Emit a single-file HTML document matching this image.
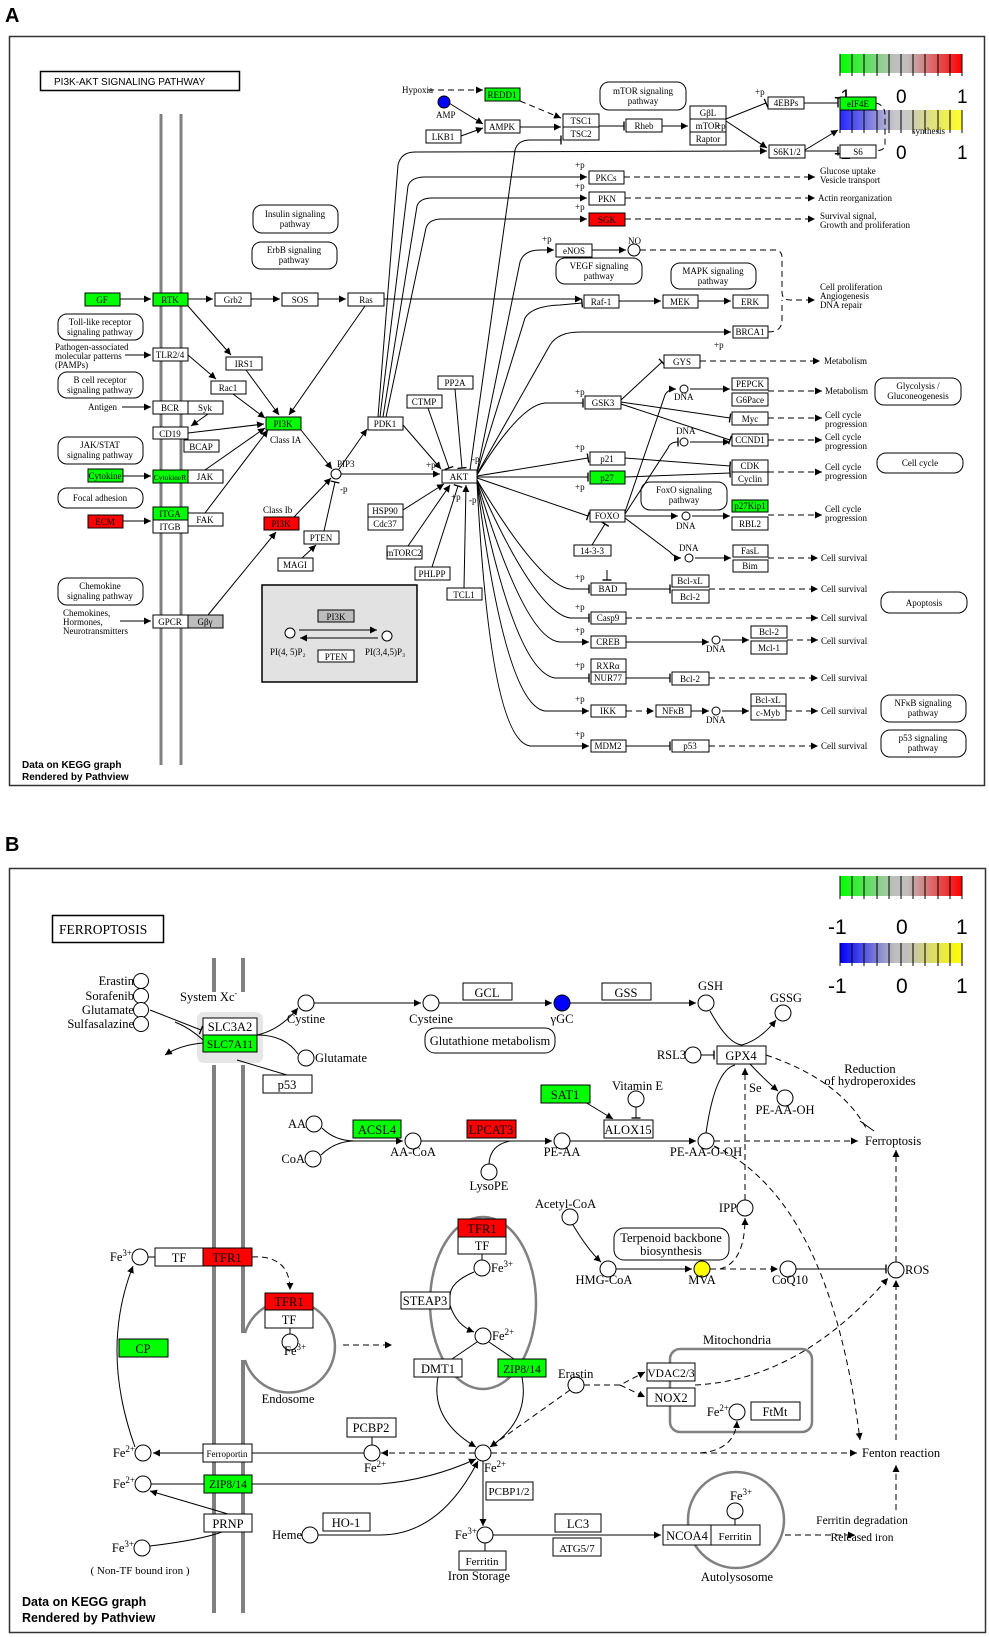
<!DOCTYPE html>
<html><head><meta charset="utf-8"><style>
html,body{margin:0;padding:0;background:#fff}
svg{display:block}
.a text{font-family:"Liberation Serif",serif;font-size:9px;fill:#000}
.b text{font-family:"Liberation Serif",serif;font-size:12.5px;fill:#000}
.n{fill:#fff;stroke:#000;stroke-width:1}
.g{fill:#00ff00;stroke:#000;stroke-width:1}
.r{fill:#ff0000;stroke:#000;stroke-width:1}
.gr{fill:#bdbdbd;stroke:#000;stroke-width:1}
.rr{fill:#fff;stroke:#000;stroke-width:1}
.l{fill:none;stroke:#000;stroke-width:1}
.d{fill:none;stroke:#000;stroke-width:1;stroke-dasharray:6,4}
</style></head><body>
<svg width="989" height="1637" viewBox="0 0 989 1637" xmlns="http://www.w3.org/2000/svg">
<defs>
<marker id="ar" viewBox="0 0 10 10" refX="10" refY="5" markerWidth="7" markerHeight="7" orient="auto"><path d="M0,0L10,5L0,10z" fill="#000"/></marker>
<marker id="br" viewBox="0 0 4 10" refX="2" refY="5" markerWidth="4" markerHeight="9" orient="auto"><path d="M2,0L2,10" stroke="#000" stroke-width="1.5"/></marker>
<linearGradient id="lg1" x1="0" x2="1"><stop offset="0" stop-color="#00ff00"/><stop offset="0.45" stop-color="#bebebe"/><stop offset="0.55" stop-color="#bebebe"/><stop offset="1" stop-color="#ff0000"/></linearGradient>
<linearGradient id="lg2" x1="0" x2="1"><stop offset="0" stop-color="#0000ff"/><stop offset="0.45" stop-color="#bebebe"/><stop offset="0.55" stop-color="#bebebe"/><stop offset="1" stop-color="#ffff00"/></linearGradient>
</defs>

<text x="5" y="22" style="font-family:'Liberation Sans',sans-serif;font-weight:bold;font-size:20px">A</text>
<text x="5" y="851" style="font-family:'Liberation Sans',sans-serif;font-weight:bold;font-size:20px">B</text>

<!-- ================= PANEL A ================= -->
<g class="a">
<rect x="9.5" y="36.5" width="975" height="749" fill="none" stroke="#333" stroke-width="1.5"/>
<rect x="40.5" y="71.5" width="199" height="19" fill="#fff" stroke="#000" stroke-width="1.5"/>
<text x="54" y="85" style="font-family:'Liberation Sans',sans-serif;font-size:10px">PI3K-AKT  SIGNALING  PATHWAY</text>
<line x1="161" y1="114" x2="161" y2="765" stroke="#808080" stroke-width="3"/>
<line x1="181" y1="114" x2="181" y2="765" stroke="#808080" stroke-width="3"/>

<!-- legend -->
<rect x="840" y="54" width="122" height="19" fill="url(#lg1)"/>
<g stroke="#000" stroke-width="1"><path d="M840,54v22M852,54v22M864,54v22M877,54v22M889,54v22M901,54v22M913,54v22M925,54v22M938,54v22M950,54v22M962,54v22"/></g>
<rect x="840" y="110" width="122" height="20" fill="url(#lg2)" opacity="0.85"/>
<g stroke="#000" stroke-width="1"><path d="M840,110v23M852,110v23M864,110v23M877,110v23M889,110v23M901,110v23M913,110v23M925,110v23M938,110v23M950,110v23M962,110v23"/></g>
<g style="font-family:'Liberation Sans',sans-serif;font-size:19px">
<text x="834" y="103" style="font-family:'Liberation Sans',sans-serif;font-size:19px">-1</text><text x="896" y="103" style="font-family:'Liberation Sans',sans-serif;font-size:19px">0</text><text x="957" y="103" style="font-family:'Liberation Sans',sans-serif;font-size:19px">1</text>
<text x="834" y="159" style="font-family:'Liberation Sans',sans-serif;font-size:19px">-1</text><text x="896" y="159" style="font-family:'Liberation Sans',sans-serif;font-size:19px">0</text><text x="957" y="159" style="font-family:'Liberation Sans',sans-serif;font-size:19px">1</text>
</g>
<text x="912" y="134">synthesis</text>

<!-- rounded pathway nodes -->
<g class="rr">
<rect x="253" y="205" width="85" height="28" rx="9"/><rect x="252" y="242" width="85" height="27" rx="9"/>
<rect x="58" y="314" width="85" height="26" rx="9"/><rect x="58" y="372" width="85" height="26" rx="9"/>
<rect x="58" y="437" width="85" height="27" rx="9"/><rect x="58" y="488" width="85" height="20" rx="9"/>
<rect x="58" y="578" width="85" height="27" rx="9"/><rect x="600" y="82" width="86" height="28" rx="9"/>
<rect x="556" y="258" width="86" height="26" rx="9"/><rect x="671" y="263" width="85" height="26" rx="9"/>
<rect x="875" y="378" width="86" height="27" rx="9"/><rect x="877" y="453" width="86" height="20" rx="9"/>
<rect x="641" y="482" width="86" height="28" rx="9"/><rect x="881" y="592" width="86" height="21" rx="9"/>
<rect x="881" y="695" width="85" height="27" rx="9"/><rect x="881" y="730" width="85" height="27" rx="9"/>
</g>
<g text-anchor="middle">
<text x="295" y="217">Insulin signaling</text><text x="295" y="227">pathway</text>
<text x="294" y="253">ErbB signaling</text><text x="294" y="263">pathway</text>
<text x="100" y="325">Toll-like receptor</text><text x="100" y="335">signaling pathway</text>
<text x="100" y="383">B cell receptor</text><text x="100" y="393">signaling pathway</text>
<text x="100" y="448">JAK/STAT</text><text x="100" y="458">signaling pathway</text>
<text x="100" y="501">Focal adhesion</text>
<text x="100" y="589">Chemokine</text><text x="100" y="599">signaling pathway</text>
<text x="643" y="94">mTOR signaling</text><text x="643" y="104">pathway</text>
<text x="599" y="269">VEGF signaling</text><text x="599" y="279">pathway</text>
<text x="713" y="274">MAPK signaling</text><text x="713" y="284">pathway</text>
<text x="918" y="389">Glycolysis /</text><text x="918" y="399">Gluconeogenesis</text>
<text x="920" y="466">Cell cycle</text>
<text x="684" y="493">FoxO signaling</text><text x="684" y="503">pathway</text>
<text x="924" y="606">Apoptosis</text>
<text x="923" y="706">NFκB signaling</text><text x="923" y="716">pathway</text>
<text x="923" y="741">p53 signaling</text><text x="923" y="751">pathway</text>
</g>

<!-- gray box -->
<rect x="262" y="585" width="155" height="97" fill="#e2e2e2" stroke="#000" stroke-width="1.5"/>
<circle cx="290" cy="633" r="5" class="n"/><circle cx="387" cy="636" r="5" class="n"/>
<path d="M299,630L377,630" class="l" marker-end="url(#ar)"/><path d="M378,638L300,638" class="l" marker-end="url(#ar)"/>
<text x="270" y="655">PI(4, 5)P₂</text><text x="365" y="655">PI(3,4,5)P₃</text>

<!-- edges A -->
<g class="l">
<path d="M120,299H151" marker-end="url(#ar)"/><path d="M188,299H213" marker-end="url(#ar)"/><path d="M251,299H280" marker-end="url(#ar)"/><path d="M318,299H346" marker-end="url(#ar)"/>
<path d="M384,299H582" marker-end="url(#ar)"/>
<path d="M188,306L231,355" marker-end="url(#ar)"/><path d="M246,370L279,415" marker-end="url(#ar)"/><path d="M365,306L289,415" marker-end="url(#ar)"/>
<path d="M188,355L216,379" marker-end="url(#ar)"/><path d="M233,394L265,418" marker-end="url(#ar)"/>
<path d="M188,433L264,424" marker-end="url(#ar)"/><path d="M208,414L191,426" marker-end="url(#ar)"/>
<path d="M205,470L265,428" marker-end="url(#ar)"/><path d="M205,513L268,430" marker-end="url(#ar)"/>
<path d="M208,615L276,532" marker-end="url(#ar)"/>
<path d="M125,355H151" marker-end="url(#ar)"/><path d="M122,407H151" marker-end="url(#ar)"/><path d="M123,476H151" marker-end="url(#ar)"/><path d="M123,521H151" marker-end="url(#ar)"/><path d="M120,621H151" marker-end="url(#ar)"/>
<path d="M301,430L332,469" marker-end="url(#ar)"/><path d="M294,517L331,478" marker-end="url(#ar)"/>
<path d="M324,531L335,482" marker-end="url(#br)"/><path d="M302,558L316,545" marker-end="url(#ar)"/>
<path d="M339,469L367,429" marker-end="url(#ar)"/><path d="M341,474H440" marker-end="url(#ar)"/>
<path d="M403,425L441,469" marker-end="url(#ar)"/><path d="M428,408L449,468" marker-end="url(#br)"/><path d="M455,389L462,468" marker-end="url(#br)"/>
<path d="M403,510L444,484" marker-end="url(#ar)"/><path d="M408,546L450,485" marker-end="url(#ar)"/><path d="M432,567L458,486" marker-end="url(#br)"/><path d="M464,588L466,485" marker-end="url(#ar)"/>
<path d="M378,417L398,165Q401,152 415,152L767,151" marker-end="url(#ar)"/>
<path d="M380,417L408,186Q411,177 425,177L587,177" marker-end="url(#ar)"/>
<path d="M383,417L417,206Q420,198 432,198L587,198" marker-end="url(#ar)"/>
<path d="M386,417L426,228Q429,219 442,219L587,219" marker-end="url(#ar)"/>
<path d="M470,470L515,150Q518,140 530,140L561,140" marker-end="url(#br)"/>
<path d="M477,472L520,262Q524,250 540,250L554,250" marker-end="url(#ar)"/>
<path d="M477,473L525,318Q532,306 560,305L582,303" marker-end="url(#br)"/>
<path d="M477,474L550,345Q558,332 580,332L731,332" marker-end="url(#ar)"/>
<path d="M477,475Q520,405 545,403L583,403" marker-end="url(#br)"/>
<path d="M477,476L588,458" marker-end="url(#br)"/><path d="M477,477L588,477" marker-end="url(#br)"/><path d="M477,478L588,516" marker-end="url(#br)"/>
<path d="M477,480Q540,585 570,589L589,589" marker-end="url(#br)"/>
<path d="M477,480Q535,612 570,618L589,618" marker-end="url(#br)"/>
<path d="M477,481Q525,640 560,642L589,642" marker-end="url(#ar)"/>
<path d="M477,481Q515,672 555,678L589,678" marker-end="url(#br)"/>
<path d="M477,482Q505,705 545,711L589,711" marker-end="url(#ar)"/>
<path d="M477,482Q490,740 530,746L589,746" marker-end="url(#ar)"/>
<path d="M444,100L483,124" marker-end="url(#ar)"/><path d="M461,136L483,128" marker-end="url(#ar)"/>
<path d="M520,127H561" marker-end="url(#ar)"/><path d="M599,126H624" marker-end="url(#br)"/><path d="M662,126H688" marker-end="url(#ar)"/>
<path d="M726,119L766,103" marker-end="url(#br)"/><path d="M726,121L767,148" marker-end="url(#ar)"/>
<path d="M804,103H838" marker-end="url(#br)"/><path d="M805,150L838,130" marker-end="url(#ar)"/><path d="M805,151H838" marker-end="url(#br)"/>
<path d="M592,250H626" marker-end="url(#ar)"/><path d="M619,301H661" marker-end="url(#ar)"/><path d="M698,301H731" marker-end="url(#ar)"/>
<path d="M621,400L662,362" marker-end="url(#br)"/><path d="M621,402L730,418" marker-end="url(#br)"/><path d="M621,404L730,440" marker-end="url(#br)"/>
<path d="M625,458L730,466" marker-end="url(#br)"/><path d="M625,477L730,473" marker-end="url(#br)"/>
<path d="M625,512L665,395Q668,389 676,389" marker-end="url(#ar)"/><path d="M690,389H730" marker-end="url(#ar)"/>
<path d="M625,514L668,448Q670,442 678,442" marker-end="url(#br)"/><path d="M690,442H730" marker-end="url(#ar)"/>
<path d="M625,516H678" marker-end="url(#ar)"/><path d="M692,516H730" marker-end="url(#ar)"/>
<path d="M625,518L670,552Q675,558 681,558" marker-end="url(#ar)"/><path d="M695,558H731" marker-end="url(#ar)"/>
<path d="M592,545L605,524" marker-end="url(#br)"/><path d="M607,570V580" marker-end="url(#br)"/>
<path d="M626,589H670" marker-end="url(#br)"/><path d="M626,642H709" marker-end="url(#ar)"/><path d="M722,640H749" marker-end="url(#ar)"/>
<path d="M626,678H670" marker-end="url(#br)"/><path d="M691,711H709" marker-end="url(#ar)"/><path d="M722,711H749" marker-end="url(#ar)"/><path d="M626,746H670" marker-end="url(#br)"/>
</g>
<g class="d">
<path d="M428,90H483" marker-end="url(#ar)"/><path d="M520,101L561,118" marker-end="url(#ar)"/>
<path d="M624,177H815" marker-end="url(#ar)"/><path d="M625,198H815" marker-end="url(#ar)"/><path d="M625,219H815" marker-end="url(#ar)"/>
<path d="M640,250H775Q782,250 782,258V292Q782,300 790,300H815" marker-end="url(#ar)"/>
<path d="M768,332Q782,332 782,320V300"/><path d="M876,103Q885,105 885,115V145Q885,150 876,151"/>
<path d="M700,361H820" marker-end="url(#ar)"/><path d="M768,391H822" marker-end="url(#ar)"/><path d="M768,418H822" marker-end="url(#ar)"/><path d="M768,440H822" marker-end="url(#ar)"/>
<path d="M768,472H822" marker-end="url(#ar)"/><path d="M768,515H822" marker-end="url(#ar)"/><path d="M768,558H818" marker-end="url(#ar)"/>
<path d="M709,589H818" marker-end="url(#ar)"/><path d="M626,618H818" marker-end="url(#ar)"/><path d="M787,640H818" marker-end="url(#ar)"/>
<path d="M709,678H818" marker-end="url(#ar)"/><path d="M626,711H654" marker-end="url(#ar)"/><path d="M786,711H818" marker-end="url(#ar)"/><path d="M709,746H818" marker-end="url(#ar)"/>
</g>
<circle cx="444" cy="102" r="6" fill="#0000ff" stroke="#000"/>
<circle cx="634" cy="250" r="6" class="n"/><circle cx="336" cy="474" r="5" class="n"/>
<circle cx="684" cy="389" r="4" class="n"/><circle cx="684" cy="442" r="4" class="n"/><circle cx="686" cy="516" r="4" class="n"/><circle cx="689" cy="558" r="4" class="n"/><circle cx="716" cy="640" r="4" class="n"/><circle cx="716" cy="711" r="4" class="n"/>

<!-- boxes A -->
<g>
<rect class="g" x="85" y="293" width="35" height="13"/><rect class="g" x="153" y="293" width="35" height="13"/>
<rect class="n" x="215" y="293" width="36" height="13"/><rect class="n" x="282" y="293" width="36" height="13"/><rect class="n" x="348" y="293" width="36" height="13"/>
<rect class="n" x="153" y="348" width="35" height="13"/><rect class="n" x="226" y="357" width="36" height="13"/><rect class="n" x="211" y="381" width="35" height="13"/>
<rect class="n" x="153" y="401" width="35" height="13"/><rect class="n" x="188" y="401" width="35" height="13"/><rect class="n" x="153" y="427" width="35" height="12"/><rect class="n" x="184" y="440" width="35" height="12"/>
<rect class="g" x="266" y="417" width="35" height="13"/><rect class="g" x="88" y="469" width="35" height="13"/><rect class="g" x="153" y="470" width="35" height="13"/><rect class="n" x="188" y="470" width="35" height="13"/>
<rect class="r" x="88" y="515" width="35" height="13"/><rect class="g" x="153" y="507" width="35" height="13"/><rect class="n" x="153" y="520" width="35" height="13"/><rect class="n" x="188" y="513" width="35" height="13"/>
<rect class="r" x="264" y="517" width="35" height="13"/><rect class="n" x="304" y="531" width="35" height="13"/><rect class="n" x="278" y="558" width="35" height="13"/>
<rect class="n" x="153" y="615" width="35" height="13"/><rect class="gr" x="188" y="615" width="35" height="13"/>
<rect class="n" x="368" y="417" width="35" height="13"/><rect class="n" x="407" y="395" width="35" height="13"/><rect class="n" x="438" y="376" width="35" height="13"/><rect class="n" x="442" y="470" width="35" height="13"/>
<rect class="n" x="368" y="504" width="35" height="13"/><rect class="n" x="368" y="517" width="35" height="13"/><rect class="n" x="387" y="546" width="35" height="13"/><rect class="n" x="415" y="567" width="35" height="13"/><rect class="n" x="447" y="588" width="35" height="12"/>
<rect class="gr" x="318" y="610" width="36" height="12"/><rect class="n" x="318" y="650" width="36" height="12"/>
<rect class="g" x="485" y="88" width="35" height="13"/><rect class="n" x="485" y="120" width="35" height="13"/><rect class="n" x="426" y="130" width="35" height="13"/>
<rect class="n" x="563" y="114" width="36" height="13"/><rect class="n" x="563" y="127" width="36" height="13"/><rect class="n" x="626" y="119" width="36" height="13"/>
<rect class="n" x="690" y="106" width="36" height="13"/><rect class="n" x="690" y="119" width="36" height="13"/><rect class="n" x="690" y="132" width="36" height="13"/>
<rect class="n" x="768" y="97" width="36" height="12"/><rect class="g" x="840" y="97" width="36" height="13"/><rect class="n" x="769" y="145" width="36" height="13"/><rect class="n" x="840" y="145" width="36" height="13"/>
<rect class="n" x="589" y="171" width="35" height="13"/><rect class="n" x="589" y="192" width="36" height="13"/><rect class="r" x="589" y="213" width="36" height="13"/><rect class="n" x="556" y="244" width="36" height="13"/>
<rect class="n" x="584" y="295" width="35" height="13"/><rect class="n" x="663" y="295" width="35" height="13"/><rect class="n" x="733" y="295" width="35" height="13"/><rect class="n" x="733" y="326" width="35" height="12"/>
<rect class="n" x="664" y="355" width="36" height="13"/><rect class="n" x="732" y="378" width="36" height="12"/><rect class="n" x="732" y="393" width="36" height="13"/><rect class="n" x="585" y="396" width="36" height="13"/>
<rect class="n" x="732" y="412" width="36" height="13"/><rect class="n" x="732" y="434" width="36" height="12"/><rect class="n" x="590" y="452" width="35" height="13"/><rect class="g" x="590" y="471" width="35" height="13"/>
<rect class="n" x="732" y="460" width="36" height="12"/><rect class="n" x="732" y="472" width="36" height="13"/><rect class="n" x="590" y="510" width="35" height="12"/>
<rect class="g" x="732" y="500" width="36" height="12"/><rect class="n" x="732" y="517" width="36" height="13"/><rect class="n" x="574" y="545" width="37" height="11"/>
<rect class="n" x="733" y="545" width="35" height="12"/><rect class="n" x="733" y="560" width="35" height="12"/><rect class="n" x="591" y="583" width="35" height="12"/>
<rect class="n" x="672" y="575" width="37" height="12"/><rect class="n" x="672" y="590" width="37" height="13"/><rect class="n" x="591" y="612" width="35" height="12"/><rect class="n" x="591" y="636" width="35" height="12"/>
<rect class="n" x="751" y="626" width="36" height="12"/><rect class="n" x="751" y="641" width="36" height="13"/><rect class="n" x="591" y="659" width="35" height="13"/><rect class="n" x="591" y="672" width="35" height="12"/>
<rect class="n" x="672" y="672" width="37" height="13"/><rect class="n" x="591" y="705" width="35" height="12"/><rect class="n" x="656" y="705" width="35" height="12"/>
<rect class="n" x="751" y="694" width="35" height="12"/><rect class="n" x="751" y="706" width="35" height="14"/><rect class="n" x="591" y="740" width="35" height="12"/><rect class="n" x="672" y="740" width="37" height="12"/>
</g>
<g text-anchor="middle">
<text x="102" y="303">GF</text><text x="170" y="303">RTK</text><text x="233" y="303">Grb2</text><text x="300" y="303">SOS</text><text x="366" y="303">Ras</text>
<text x="170" y="358">TLR2/4</text><text x="244" y="367">IRS1</text><text x="228" y="391">Rac1</text><text x="170" y="411">BCR</text><text x="205" y="411">Syk</text><text x="170" y="437">CD19</text><text x="201" y="450">BCAP</text>
<text x="283" y="427">PI3K</text><text x="105" y="479">Cytokine</text><text x="170" y="480" style="font-size:7.5px">CytokineR</text><text x="205" y="480">JAK</text>
<text x="105" y="525">ECM</text><text x="170" y="517">ITGA</text><text x="170" y="530">ITGB</text><text x="205" y="523">FAK</text>
<text x="281" y="527">PI3K</text><text x="321" y="541">PTEN</text><text x="295" y="568">MAGI</text><text x="170" y="625">GPCR</text><text x="205" y="625">Gβγ</text>
<text x="385" y="427">PDK1</text><text x="424" y="405">CTMP</text><text x="455" y="386">PP2A</text><text x="459" y="480">AKT</text>
<text x="385" y="514">HSP90</text><text x="385" y="527">Cdc37</text><text x="404" y="556">mTORC2</text><text x="432" y="577">PHLPP</text><text x="464" y="598">TCL1</text>
<text x="336" y="620">PI3K</text><text x="336" y="660">PTEN</text>
<text x="502" y="98">REDD1</text><text x="502" y="130">AMPK</text><text x="443" y="140">LKB1</text>
<text x="581" y="124">TSC1</text><text x="581" y="137">TSC2</text><text x="644" y="129">Rheb</text>
<text x="708" y="116">GβL</text><text x="708" y="129">mTOR</text><text x="708" y="142">Raptor</text>
<text x="786" y="106">4EBPs</text><text x="858" y="107">eIF4E</text><text x="787" y="155">S6K1/2</text><text x="858" y="155">S6</text>
<text x="606" y="181">PKCs</text><text x="607" y="202">PKN</text><text x="607" y="223">SGK</text><text x="574" y="254">eNOS</text>
<text x="601" y="305">Raf-1</text><text x="680" y="305">MEK</text><text x="750" y="305">ERK</text><text x="750" y="335">BRCA1</text>
<text x="682" y="365">GYS</text><text x="750" y="387">PEPCK</text><text x="750" y="403">G6Pace</text><text x="603" y="406">GSK3</text>
<text x="750" y="422">Myc</text><text x="750" y="443">CCND1</text><text x="607" y="462">p21</text><text x="607" y="481">p27</text>
<text x="750" y="469">CDK</text><text x="750" y="482">Cyclin</text><text x="607" y="519">FOXO</text><text x="750" y="509">p27Kip1</text><text x="750" y="527">RBL2</text>
<text x="592" y="554">14-3-3</text><text x="750" y="554">FasL</text><text x="750" y="569">Bim</text><text x="608" y="592">BAD</text>
<text x="690" y="584">Bcl-xL</text><text x="690" y="600">Bcl-2</text><text x="608" y="621">Casp9</text><text x="608" y="645">CREB</text>
<text x="769" y="635">Bcl-2</text><text x="769" y="651">Mcl-1</text><text x="608" y="669">RXRα</text><text x="608" y="681">NUR77</text>
<text x="690" y="682">Bcl-2</text><text x="608" y="714">IKK</text><text x="673" y="714">NFκB</text><text x="768" y="703">Bcl-xL</text><text x="768" y="716">c-Myb</text>
<text x="608" y="749">MDM2</text><text x="690" y="749">p53</text>
</g>
<g>
<text x="402" y="93">Hypoxia</text><text x="436" y="118">AMP</text><text x="628" y="244">NO</text>
<text x="55" y="350">Pathogen-associated</text><text x="55" y="359">molecular patterns</text><text x="55" y="368">(PAMPs)</text>
<text x="88" y="410">Antigen</text><text x="270" y="443">Class IA</text><text x="263" y="513">Class Ib</text><text x="337" y="467">PIP3</text>
<text x="63" y="616">Chemokines,</text><text x="63" y="625">Hormones,</text><text x="63" y="634">Neurotransmitters</text>
<text x="820" y="174">Glucose uptake</text><text x="820" y="183">Vesicle transport</text><text x="818" y="201">Actin reorganization</text>
<text x="820" y="219">Survival signal,</text><text x="820" y="228">Growth and proliferation</text>
<text x="820" y="290">Cell proliferation</text><text x="820" y="299">Angiogenesis</text><text x="820" y="308">DNA repair</text>
<text x="824" y="364">Metabolism</text><text x="825" y="394">Metabolism</text>
<text x="825" y="418">Cell cycle</text><text x="825" y="427">progression</text><text x="825" y="440">Cell cycle</text><text x="825" y="449">progression</text>
<text x="825" y="470">Cell cycle</text><text x="825" y="479">progression</text><text x="825" y="512">Cell cycle</text><text x="825" y="521">progression</text>
<text x="821" y="561">Cell survival</text><text x="821" y="592">Cell survival</text><text x="821" y="621">Cell survival</text><text x="821" y="644">Cell survival</text>
<text x="821" y="681">Cell survival</text><text x="821" y="714">Cell survival</text><text x="821" y="749">Cell survival</text>
<text x="674" y="400">DNA</text><text x="676" y="434">DNA</text><text x="676" y="529">DNA</text><text x="679" y="551">DNA</text><text x="706" y="652">DNA</text><text x="706" y="723">DNA</text>
<text x="575" y="168">+p</text><text x="575" y="189">+p</text><text x="575" y="210">+p</text><text x="542" y="242">+p</text><text x="716" y="129">+p</text><text x="755" y="95">+p</text>
<text x="575" y="395">+p</text><text x="575" y="450">+p</text><text x="575" y="490">+p</text><text x="575" y="580">+p</text><text x="575" y="610">+p</text><text x="575" y="633">+p</text><text x="575" y="668">+p</text><text x="575" y="702">+p</text><text x="575" y="737">+p</text>
<text x="426" y="468">+p</text><text x="472" y="462">-p</text><text x="340" y="492">-p</text><text x="451" y="500">+p</text><text x="469" y="503">-p</text><text x="714" y="348">+p</text>
</g>
<text x="22" y="768" style="font-family:'Liberation Sans',sans-serif;font-weight:bold;font-size:10px">Data on KEGG graph</text>
<text x="22" y="780" style="font-family:'Liberation Sans',sans-serif;font-weight:bold;font-size:10px">Rendered by Pathview</text>
</g>

<!-- ================= PANEL B ================= -->
<g class="b">
<rect x="9.5" y="868.5" width="976" height="764" fill="none" stroke="#333" stroke-width="1.5"/>
<rect x="52.5" y="915.5" width="111" height="27" fill="#fff" stroke="#000" stroke-width="1.5"/>
<text x="59" y="934" style="font-size:13.5px">FERROPTOSIS</text>
<!-- legend -->
<rect x="840" y="876" width="122" height="20" fill="url(#lg1)"/>
<g stroke="#000"><path d="M840,876v23M852,876v23M864,876v23M877,876v23M889,876v23M901,876v23M913,876v23M925,876v23M938,876v23M950,876v23M962,876v23"/></g>
<rect x="840" y="943" width="122" height="20" fill="url(#lg2)"/>
<g stroke="#000"><path d="M840,943v23M852,943v23M864,943v23M877,943v23M889,943v23M901,943v23M913,943v23M925,943v23M938,943v23M950,943v23M962,943v23"/></g>
<text x="828" y="934" style="font-family:'Liberation Sans',sans-serif;font-size:21px">-1</text><text x="896" y="934" style="font-family:'Liberation Sans',sans-serif;font-size:21px">0</text><text x="956" y="934" style="font-family:'Liberation Sans',sans-serif;font-size:21px">1</text>
<text x="828" y="993" style="font-family:'Liberation Sans',sans-serif;font-size:21px">-1</text><text x="896" y="993" style="font-family:'Liberation Sans',sans-serif;font-size:21px">0</text><text x="956" y="993" style="font-family:'Liberation Sans',sans-serif;font-size:21px">1</text>

<g stroke="#808080" stroke-width="4">
<line x1="214" y1="958" x2="214" y2="992"/><line x1="243" y1="958" x2="243" y2="992"/>
<line x1="214" y1="1065" x2="214" y2="1613"/><line x1="243" y1="1065" x2="243" y2="1333"/><line x1="243" y1="1360" x2="243" y2="1613"/>
</g>
<rect x="197" y="1012" width="66" height="51" rx="7" fill="#e6e6e6"/>
<g fill="none" stroke="#808080" stroke-width="2.5">
<path d="M245,1333A46,46 0 1 1 245,1360"/>
<ellipse cx="483" cy="1303" rx="53" ry="86"/>
<rect x="670" y="1349" width="142" height="83" rx="10"/>
<circle cx="736" cy="1520" r="48"/>
</g>

<!-- edges B -->
<g class="l">
<path d="M150,1010L201,1030" marker-end="url(#br)"/><path d="M203,1043Q180,1045 165,1055" marker-end="url(#ar)"/><path d="M175,1022Q190,1028 203,1040"/>
<path d="M257,1035Q280,1030 298,1008" marker-end="url(#ar)"/><path d="M257,1035Q285,1035 298,1054"/><path d="M287,1075L237,1060"/>
<path d="M314,1003H421" marker-end="url(#ar)"/><path d="M439,1003H552" marker-end="url(#ar)"/><path d="M570,1003H696" marker-end="url(#ar)"/>
<path d="M710,1011Q728,1044 742,1045Q760,1040 776,1020" marker-end="url(#ar)"/>
<path d="M701,1055H714" marker-end="url(#br)"/><path d="M750,1064Q765,1080 778,1091" marker-end="url(#ar)"/><path d="M706,1133Q715,1070 735,1065"/>
<path d="M322,1128Q335,1141 355,1141"/><path d="M321,1155Q335,1141 355,1141H403" marker-end="url(#ar)"/>
<path d="M421,1141H552" marker-end="url(#ar)"/><path d="M489,1164Q490,1145 510,1141"/><path d="M570,1141H696" marker-end="url(#ar)"/>
<path d="M585,1102L613,1119" marker-end="url(#ar)"/><path d="M636,1107V1118" marker-end="url(#br)"/>
<path d="M573,1225Q588,1250 601,1262" marker-end="url(#ar)"/><path d="M616,1269H692" marker-end="url(#ar)"/><path d="M796,1269H886" marker-end="url(#br)"/>
<path d="M482,1254V1260"/><path d="M290,1328V1334"/>
<path d="M474,1272Q450,1282 450,1296"/><path d="M450,1305Q456,1325 474,1332" marker-end="url(#ar)"/>
<path d="M477,1342L452,1359"/><path d="M489,1342L514,1359"/>
<path d="M438,1377Q430,1420 476,1447" marker-end="url(#ar)"/><path d="M522,1377Q530,1420 490,1447" marker-end="url(#ar)"/>
<path d="M372,1437V1445"/><path d="M364,1453H153" marker-end="url(#ar)"/><path d="M135,1447Q100,1350 133,1266" marker-end="url(#ar)"/>
<path d="M151,1484H204"/><path d="M252,1484H380Q430,1480 476,1459" marker-end="url(#ar)"/>
<path d="M228,1514Q180,1500 150,1491" marker-end="url(#ar)"/><path d="M150,1546Q200,1540 222,1532"/>
<path d="M318,1535H380Q440,1535 478,1461" marker-end="url(#ar)"/>
<path d="M483,1461V1526" marker-end="url(#ar)"/><path d="M485,1543V1551"/><path d="M493,1535H661" marker-end="url(#ar)"/><path d="M735,1519V1525"/>
<path d="M148,1257H155"/>
</g>
<g class="d">
<path d="M766,1055Q840,1080 866,1128" /><path d="M860,1121L874,1131" stroke-dasharray="none"/>
<path d="M714,1141H858" marker-end="url(#ar)"/><path d="M714,1146Q830,1200 860,1440" marker-end="url(#ar)"/>
<path d="M745,1200V1068" marker-end="url(#ar)"/><path d="M710,1269H778" marker-end="url(#ar)"/><path d="M720,1269Q745,1262 745,1218" marker-end="url(#ar)"/>
<path d="M896,1262V1150" marker-end="url(#ar)"/><path d="M896,1440V1280" marker-end="url(#ar)"/><path d="M896,1510V1465" marker-end="url(#ar)"/>
<path d="M695,1385Q800,1380 888,1278" marker-end="url(#ar)"/>
<path d="M584,1385H620L645,1372" marker-end="url(#ar)"/><path d="M620,1385L645,1397" marker-end="url(#ar)"/>
<path d="M570,1390L490,1447" marker-end="url(#ar)"/>
<path d="M491,1453H857" marker-end="url(#ar)"/><path d="M475,1453H381" marker-end="url(#ar)"/><path d="M700,1453Q735,1450 737,1421" marker-end="url(#ar)"/>
<path d="M252,1257Q290,1255 290,1290" marker-end="url(#ar)"/><path d="M343,1345H392" marker-end="url(#ar)"/>
<path d="M785,1535H855" marker-end="url(#ar)"/>
</g>

<g class="n">
<circle cx="141" cy="981" r="7.5"/><circle cx="141" cy="996" r="7.5"/><circle cx="141" cy="1010" r="7.5"/><circle cx="141" cy="1024" r="7.5"/>
<circle cx="306" cy="1003" r="8"/><circle cx="431" cy="1003" r="8"/><circle cx="306" cy="1058" r="8"/><circle cx="706" cy="1003" r="8"/><circle cx="783" cy="1013" r="8"/>
<circle cx="693" cy="1055" r="8"/><circle cx="785" cy="1098" r="8"/><circle cx="636" cy="1099" r="8"/><circle cx="314" cy="1124" r="8"/><circle cx="313" cy="1159" r="8"/>
<circle cx="413" cy="1141" r="8"/><circle cx="562" cy="1141" r="8"/><circle cx="489" cy="1172" r="8"/><circle cx="706" cy="1141" r="8"/><circle cx="570" cy="1217" r="8"/>
<circle cx="745" cy="1208" r="8"/><circle cx="608" cy="1269" r="8"/><circle cx="788" cy="1269" r="8"/><circle cx="896" cy="1270" r="8"/>
<circle cx="140" cy="1257" r="8"/><circle cx="290" cy="1342" r="8"/><circle cx="482" cy="1268" r="8"/><circle cx="483" cy="1336" r="8"/><circle cx="576" cy="1385" r="8"/>
<circle cx="737" cy="1412" r="8"/><circle cx="143" cy="1453" r="8"/><circle cx="372" cy="1453" r="8"/><circle cx="483" cy="1453" r="8"/><circle cx="143" cy="1484" r="8"/>
<circle cx="142" cy="1548" r="8"/><circle cx="310" cy="1535" r="8"/><circle cx="485" cy="1535" r="8"/><circle cx="735" cy="1511" r="8"/>
</g>
<circle cx="562" cy="1003" r="8" fill="#0000ff" stroke="#000"/><circle cx="702" cy="1269" r="8" fill="#ffff00" stroke="#000"/>

<g class="rr"><rect x="425" y="1028" width="130" height="25" rx="10"/><rect x="614" y="1228" width="115" height="32" rx="10"/></g>
<rect class="n" x="203" y="1018" width="54" height="17"/><rect class="g" x="203" y="1035" width="54" height="17"/>
<rect class="n" x="263" y="1075" width="49" height="18"/><rect class="n" x="463" y="983" width="49" height="17"/><rect class="n" x="602" y="983" width="49" height="17"/>
<rect class="n" x="717" y="1046" width="49" height="18"/><rect class="g" x="541" y="1085" width="49" height="18"/><rect class="n" x="604" y="1120" width="49" height="18"/>
<rect class="g" x="353" y="1120" width="48" height="18"/><rect class="r" x="467" y="1120" width="49" height="18"/>
<rect class="n" x="155" y="1248" width="48" height="18"/><rect class="r" x="203" y="1248" width="49" height="18"/><rect class="g" x="119" y="1339" width="49" height="18"/>
<rect class="r" x="265" y="1293" width="48" height="17"/><rect class="n" x="265" y="1310" width="48" height="18"/>
<rect class="r" x="458" y="1219" width="48" height="18"/><rect class="n" x="458" y="1237" width="48" height="17"/>
<rect class="n" x="401" y="1292" width="49" height="17"/><rect class="n" x="414" y="1359" width="48" height="18"/><rect class="g" x="498" y="1359" width="48" height="18"/>
<rect class="n" x="647" y="1363" width="48" height="18"/><rect class="n" x="647" y="1388" width="48" height="18"/><rect class="n" x="751" y="1402" width="49" height="18"/>
<rect class="n" x="347" y="1418" width="49" height="19"/><rect class="n" x="203" y="1444" width="49" height="18"/><rect class="n" x="486" y="1482" width="47" height="18"/>
<rect class="g" x="204" y="1475" width="48" height="18"/><rect class="n" x="204" y="1514" width="48" height="18"/><rect class="n" x="323" y="1513" width="47" height="18"/>
<rect class="n" x="459" y="1551" width="47" height="19"/><rect class="n" x="555" y="1514" width="46" height="18"/><rect class="n" x="553" y="1538" width="48" height="18"/>
<rect class="n" x="663" y="1525" width="48" height="20"/><rect class="n" x="711" y="1525" width="49" height="20"/>

<g text-anchor="middle">
<text x="230" y="1031">SLC3A2</text><text x="230" y="1048" style="font-size:11.5px">SLC7A11</text><text x="287" y="1089">p53</text>
<text x="487" y="997">GCL</text><text x="626" y="997">GSS</text><text x="490" y="1045">Glutathione metabolism</text>
<text x="741" y="1060">GPX4</text><text x="565" y="1099">SAT1</text><text x="628" y="1134">ALOX15</text><text x="377" y="1134">ACSL4</text><text x="491" y="1134">LPCAT3</text>
<text x="179" y="1262">TF</text><text x="227" y="1262">TFR1</text><text x="143" y="1353">CP</text><text x="289" y="1306">TFR1</text><text x="289" y="1324">TF</text>
<text x="482" y="1233">TFR1</text><text x="482" y="1250">TF</text><text x="425" y="1305">STEAP3</text><text x="438" y="1373">DMT1</text><text x="522" y="1373" style="font-size:11.5px">ZIP8/14</text>
<text x="671" y="1242">Terpenoid backbone</text><text x="671" y="1255">biosynthesis</text>
<text x="671" y="1377" style="font-size:11.5px">VDAC2/3</text><text x="671" y="1402">NOX2</text><text x="775" y="1416">FtMt</text>
<text x="371" y="1432">PCBP2</text><text x="227" y="1457" style="font-size:9px">Ferroportin</text><text x="509" y="1495" style="font-size:11px">PCBP1/2</text>
<text x="228" y="1488" style="font-size:11.5px">ZIP8/14</text><text x="228" y="1528">PRNP</text><text x="346" y="1527">HO-1</text>
<text x="482" y="1565" style="font-size:11px">Ferritin</text><text x="578" y="1528">LC3</text><text x="577" y="1552" style="font-size:11px">ATG5/7</text>
<text x="687" y="1540">NCOA4</text><text x="735" y="1540" style="font-size:11px">Ferritin</text>
<text x="306" y="1023">Cystine</text><text x="431" y="1023">Cysteine</text><text x="562" y="1023">γGC</text>
<text x="706" y="1156">PE-AA-O-OH</text><text x="562" y="1156">PE-AA</text><text x="413" y="1156">AA-CoA</text><text x="489" y="1190">LysoPE</text>
<text x="785" y="1114">PE-AA-OH</text><text x="604" y="1284">HMG-CoA</text><text x="702" y="1284">MVA</text><text x="790" y="1284">CoQ10</text>
<text x="288" y="1403">Endosome</text><text x="479" y="1580">Iron Storage</text><text x="737" y="1581">Autolysosome</text>
<text x="140" y="1574" style="font-size:11px">( Non-TF bound iron )</text>
<text x="870" y="1073">Reduction</text><text x="870" y="1085">of hydroperoxides</text>
<text x="737" y="1344">Mitochondria</text>
<text x="862" y="1524" style="font-size:11.5px">Ferritin degradation</text><text x="862" y="1541" style="font-size:11.5px">Released iron</text>
</g>
<g text-anchor="end">
<text x="134" y="985">Erastin</text><text x="134" y="1000">Sorafenib</text><text x="134" y="1014">Glutamate</text><text x="134" y="1028">Sulfasalazine</text>
<text x="686" y="1059">RSL3</text><text x="306" y="1128">AA</text><text x="305" y="1163">CoA</text><text x="737" y="1212">IPP</text>
<text x="132" y="1261">Fe<tspan font-size="9" dy="-5">3+</tspan></text>
<text x="135" y="1457">Fe<tspan font-size="9" dy="-5">2+</tspan></text><text x="135" y="1488">Fe<tspan font-size="9" dy="-5">2+</tspan></text><text x="134" y="1552">Fe<tspan font-size="9" dy="-5">3+</tspan></text>
<text x="302" y="1539">Heme</text><text x="477" y="1539">Fe<tspan font-size="9" dy="-5">3+</tspan></text><text x="729" y="1416">Fe<tspan font-size="9" dy="-5">2+</tspan></text>
</g>
<text x="315" y="1062">Glutamate</text><text x="698" y="990">GSH</text><text x="770" y="1002">GSSG</text><text x="612" y="1090">Vitamin E</text><text x="749" y="1092">Se</text>
<text x="865" y="1145">Ferroptosis</text><text x="905" y="1274">ROS</text><text x="535" y="1208">Acetyl-CoA</text><text x="558" y="1378">Erastin</text>
<text x="862" y="1457">Fenton reaction</text><text x="180" y="1001">System Xc<tspan font-size="8" dy="-5">-</tspan></text>
<text x="284" y="1355">Fe<tspan font-size="9" dy="-5">3+</tspan></text><text x="491" y="1272">Fe<tspan font-size="9" dy="-5">3+</tspan></text><text x="492" y="1340">Fe<tspan font-size="9" dy="-5">2+</tspan></text>
<text x="364" y="1472">Fe<tspan font-size="9" dy="-5">2+</tspan></text><text x="484" y="1472">Fe<tspan font-size="9" dy="-5">2+</tspan></text><text x="730" y="1500">Fe<tspan font-size="9" dy="-5">3+</tspan></text>
<text x="22" y="1606" style="font-family:'Liberation Sans',sans-serif;font-weight:bold;font-size:12.5px">Data on KEGG graph</text>
<text x="22" y="1622" style="font-family:'Liberation Sans',sans-serif;font-weight:bold;font-size:12.5px">Rendered by Pathview</text>
</g>
</svg>
</body></html>
